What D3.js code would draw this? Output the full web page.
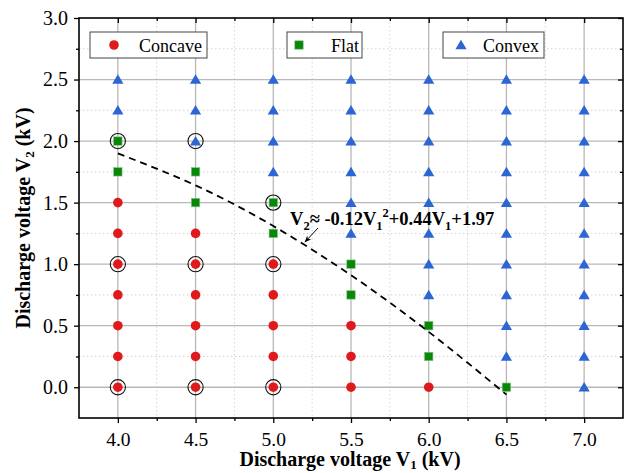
<!DOCTYPE html>
<html>
<head>
<meta charset="utf-8">
<script src="https://cdn.jsdelivr.net/npm/d3@7"></script>
<style>
  html, body { margin: 0; padding: 0; background: #fff; }
  svg { display: block; }
  text { font-family: "Liberation Serif", "Times New Roman", Times, serif; fill: #000; }
</style>
</head>
<body>
<svg id="chart" width="625" height="473"></svg>
<script>
// Discharge voltage pairs [V1, V2] (kV) grouped by observed surface shape
const concavePoints = [
  [4.0, 0.0], [4.0, 0.25], [4.0, 0.5], [4.0, 0.75], [4.0, 1.0], [4.0, 1.25], [4.0, 1.5],
  [4.5, 0.0], [4.5, 0.25], [4.5, 0.5], [4.5, 0.75], [4.5, 1.0], [4.5, 1.25],
  [5.0, 0.0], [5.0, 0.25], [5.0, 0.5], [5.0, 0.75], [5.0, 1.0],
  [5.5, 0.0], [5.5, 0.25], [5.5, 0.5],
  [6.0, 0.0]
];
const flatPoints = [
  [4.0, 1.75], [4.0, 2.0],
  [4.5, 1.5], [4.5, 1.75],
  [5.0, 1.25], [5.0, 1.5],
  [5.5, 0.75], [5.5, 1.0],
  [6.0, 0.25], [6.0, 0.5],
  [6.5, 0.0]
];
const convexPoints = [
  [4.0, 2.25], [4.0, 2.5],
  [4.5, 2.0], [4.5, 2.25], [4.5, 2.5],
  [5.0, 1.75], [5.0, 2.0], [5.0, 2.25], [5.0, 2.5],
  [5.5, 1.25], [5.5, 1.5], [5.5, 1.75], [5.5, 2.0], [5.5, 2.25], [5.5, 2.5],
  [6.0, 0.75], [6.0, 1.0], [6.0, 1.25], [6.0, 1.5], [6.0, 1.75], [6.0, 2.0], [6.0, 2.25], [6.0, 2.5],
  [6.5, 0.25], [6.5, 0.5], [6.5, 0.75], [6.5, 1.0], [6.5, 1.25], [6.5, 1.5], [6.5, 1.75], [6.5, 2.0], [6.5, 2.25], [6.5, 2.5],
  [7.0, 0.0], [7.0, 0.25], [7.0, 0.5], [7.0, 0.75], [7.0, 1.0], [7.0, 1.25], [7.0, 1.5], [7.0, 1.75], [7.0, 2.0], [7.0, 2.25], [7.0, 2.5]
];
// Highlighted (ringed) operating points
const ringedPoints = [
  [4.0, 2.0], [4.5, 2.0], [5.0, 1.5],
  [4.0, 1.0], [4.5, 1.0], [5.0, 1.0],
  [4.0, 0.0], [4.5, 0.0], [5.0, 0.0]
];
// Boundary between concave and convex regimes (dashed fit curve)
const boundaryV1 = [4.0, 4.5, 5.0, 5.5, 6.0, 6.5];
const boundaryV2 = [1.90, 1.64, 1.31, 0.91, 0.45, -0.06];

// Axis ticks
const xMajorTicks = [4.0, 4.5, 5.0, 5.5, 6.0, 6.5, 7.0];
const xMinorTicks = [4.25, 4.75, 5.25, 5.75, 6.25, 6.75];
const yMajorTicks = [0.0, 0.5, 1.0, 1.5, 2.0, 2.5, 3.0];
const yMinorTicks = [0.25, 0.75, 1.25, 1.75, 2.25, 2.75];

const legendLabels = ["Concave", "Flat", "Convex"];
const colors = { Concave: "#e0191c", Flat: "#0a870a", Convex: "#2b66d2" };

const svg = d3.select("#chart");
const plotLeft = 79, plotRight = 623, plotTop = 18, plotBottom = 418;

const x = d3.scaleLinear().domain([3.75, 7.25]).range([plotLeft, plotRight]);
const y = d3.scaleLinear().domain([-0.25, 3.0]).range([plotBottom, plotTop]);

// Grid: dotted minor lines, solid major lines
const grid = svg.append("g");
grid.selectAll(".gxm").data(xMinorTicks).join("line")
  .attr("x1", d => x(d)).attr("x2", d => x(d)).attr("y1", plotTop).attr("y2", plotBottom)
  .attr("stroke", "#d4d4d4").attr("stroke-width", 1).attr("stroke-dasharray", "1.5,2.5");
grid.selectAll(".gym").data(yMinorTicks).join("line")
  .attr("y1", d => y(d)).attr("y2", d => y(d)).attr("x1", plotLeft).attr("x2", plotRight)
  .attr("stroke", "#d4d4d4").attr("stroke-width", 1).attr("stroke-dasharray", "1.5,2.5");
grid.selectAll(".gx").data(xMajorTicks).join("line")
  .attr("x1", d => x(d)).attr("x2", d => x(d)).attr("y1", plotTop).attr("y2", plotBottom)
  .attr("stroke", "#b8b8b8").attr("stroke-width", 1.3);
grid.selectAll(".gy").data(yMajorTicks.filter(d => d < 3)).join("line")
  .attr("y1", d => y(d)).attr("y2", d => y(d)).attr("x1", plotLeft).attr("x2", plotRight)
  .attr("stroke", "#b8b8b8").attr("stroke-width", 1.3);

// Axes: bottom/left ticks outward, top/right ticks inward
function styleAxis(g) {
  g.select(".domain").remove();
  g.attr("font-family", null);
  g.selectAll("line").attr("stroke", "#000").attr("stroke-width", 1.3);
}
const fmt = d3.format(".1f");
const xAxis = svg.append("g").attr("transform", `translate(0,${plotBottom})`)
  .call(d3.axisBottom(x).tickValues(xMajorTicks).tickFormat(fmt).tickSize(5).tickPadding(9));
styleAxis(xAxis);
xAxis.selectAll("text").attr("font-size", 19.5);
svg.append("g").attr("transform", `translate(0,${plotBottom})`)
  .call(d3.axisBottom(x).tickValues(xMinorTicks).tickFormat("").tickSize(3)).call(styleAxis);

const yAxis = svg.append("g").attr("transform", `translate(${plotLeft},0)`)
  .call(d3.axisLeft(y).tickValues(yMajorTicks).tickFormat(fmt).tickSize(5).tickPadding(6));
styleAxis(yAxis);
yAxis.selectAll("text").attr("font-size", 20);
svg.append("g").attr("transform", `translate(${plotLeft},0)`)
  .call(d3.axisLeft(y).tickValues(yMinorTicks).tickFormat("").tickSize(3)).call(styleAxis);

svg.append("g").attr("transform", `translate(0,${plotTop})`)
  .call(d3.axisBottom(x).tickValues(xMajorTicks).tickFormat("").tickSize(5)).call(styleAxis);
svg.append("g").attr("transform", `translate(0,${plotTop})`)
  .call(d3.axisBottom(x).tickValues(xMinorTicks).tickFormat("").tickSize(3)).call(styleAxis);
svg.append("g").attr("transform", `translate(${plotRight},0)`)
  .call(d3.axisLeft(y).tickValues(yMajorTicks).tickFormat("").tickSize(5)).call(styleAxis);
svg.append("g").attr("transform", `translate(${plotRight},0)`)
  .call(d3.axisLeft(y).tickValues(yMinorTicks).tickFormat("").tickSize(3)).call(styleAxis);

// Frame
svg.append("rect").attr("x", plotLeft).attr("y", plotTop)
  .attr("width", plotRight - plotLeft).attr("height", plotBottom - plotTop)
  .attr("fill", "none").attr("stroke", "#000").attr("stroke-width", 1.6);

// Marker shapes
const triPath = "M0,-5.2L5.6,4.3L-5.6,4.3Z";
function drawMarker(sel, kind) {
  if (kind === "Concave") {
    sel.append("circle").attr("r", 4.8).attr("fill", colors.Concave);
  } else if (kind === "Flat") {
    sel.append("rect").attr("x", -4.2).attr("y", -4.2).attr("width", 8.4).attr("height", 8.4)
      .attr("fill", colors.Flat).attr("stroke", "#7cc47c").attr("stroke-width", 0.6);
  } else {
    sel.append("path").attr("d", triPath).attr("fill", colors.Convex);
  }
}

const series = [["Concave", concavePoints], ["Flat", flatPoints], ["Convex", convexPoints]];
const marks = svg.append("g");
series.forEach(([kind, pts]) => {
  marks.selectAll(null).data(pts).join("g")
    .attr("transform", d => `translate(${x(d[0])},${y(d[1])})`)
    .each(function () { drawMarker(d3.select(this), kind); });
});

// Rings around highlighted points
svg.append("g").selectAll("circle").data(ringedPoints).join("circle")
  .attr("cx", d => x(d[0])).attr("cy", d => y(d[1])).attr("r", 7.6)
  .attr("fill", "none").attr("stroke", "#111").attr("stroke-width", 1.1);

// Dashed boundary curve
const boundary = boundaryV1.map((v, i) => [v, boundaryV2[i]]);
svg.append("path").datum(boundary)
  .attr("d", d3.line().x(d => x(d[0])).y(d => y(d[1])).curve(d3.curveNatural))
  .attr("fill", "none").attr("stroke", "#000").attr("stroke-width", 1.8)
  .attr("stroke-dasharray", "7,5");

// Equation annotation with arrow
svg.append("defs").append("marker")
  .attr("id", "arrowhead").attr("viewBox", "0 0 10 10").attr("refX", 9).attr("refY", 5)
  .attr("markerWidth", 7).attr("markerHeight", 7).attr("orient", "auto")
  .append("path").attr("d", "M0,1L10,5L0,9L3,5Z").attr("fill", "#000");
svg.append("line")
  .attr("x1", 318).attr("y1", 228).attr("x2", 305).attr("y2", 242)
  .attr("stroke", "#000").attr("stroke-width", 1).attr("marker-end", "url(#arrowhead)");

const eq = svg.append("text").attr("x", 290).attr("y", 225)
  .attr("font-size", 18.5).attr("font-weight", "bold");
const eqParts = [
  ["V", 0], ["2", -1], ["\u2248 -0.12V", 0], ["1", -1], ["2", 1], ["+0.44V", 0], ["1", -1], ["+1.97", 0]
];
let prevShift = 0;
eqParts.forEach(([t, s]) => {
  const shift = s === -1 ? 5 : s === 1 ? -8 : 0;
  const tsp = eq.append("tspan").text(t).attr("dy", shift - prevShift);
  if (s !== 0) tsp.attr("font-size", 12.5);
  prevShift = shift;
});

// Legend boxes
const legendBoxes = [
  { x: 90, w: 117, mx: 114, tx: 139 },
  { x: 287, w: 75, mx: 299, tx: 331 },
  { x: 443, w: 101, mx: 461, tx: 483 }
];
legendLabels.forEach((lab, i) => {
  const b = legendBoxes[i];
  const g = svg.append("g");
  g.append("rect").attr("x", b.x).attr("y", 32).attr("width", b.w).attr("height", 26)
    .attr("fill", "#fff").attr("stroke", "#444").attr("stroke-width", 1);
  const m = g.append("g").attr("transform", `translate(${b.mx},45)`);
  drawMarker(m, lab);
  g.append("text").attr("x", b.tx).attr("y", 51.5).attr("font-size", 18).text(lab);
});

// Axis titles
const xt = svg.append("text").attr("x", 350).attr("y", 466).attr("text-anchor", "middle")
  .attr("font-size", 20).attr("font-weight", "bold");
xt.append("tspan").text("Discharge voltage V");
xt.append("tspan").text("1").attr("font-size", 13).attr("dy", 3);
xt.append("tspan").text(" (kV)").attr("dy", -3);

const yt = svg.append("text").attr("transform", `translate(30,${(plotTop + plotBottom) / 2}) rotate(-90)`)
  .attr("text-anchor", "middle").attr("font-size", 20).attr("font-weight", "bold");
yt.append("tspan").text("Discharge voltage V");
yt.append("tspan").text("2").attr("font-size", 13).attr("dy", 4);
yt.append("tspan").text(" (kV)").attr("dy", -4);
</script>
</body>
</html>
